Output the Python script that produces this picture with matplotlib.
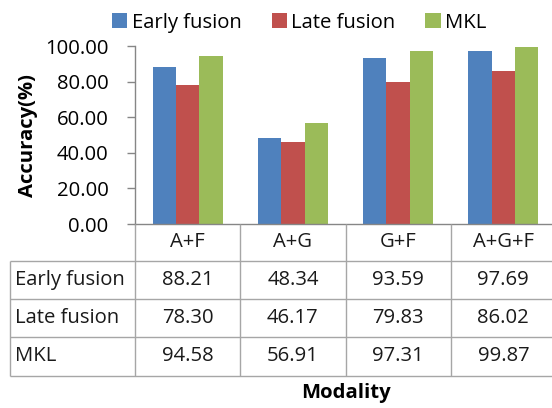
import matplotlib
matplotlib.use("Agg")
import matplotlib.pyplot as plt

categories = ["A+F", "A+G", "G+F", "A+G+F"]
early_fusion = [88.21, 48.34, 93.59, 97.69]
late_fusion = [78.30, 46.17, 79.83, 86.02]
mkl = [94.58, 56.91, 97.31, 99.87]
series_names = ["Early fusion", "Late fusion", "MKL"]
yticks = [0, 20, 40, 60, 80, 100]

colors = ["#4F81BD", "#C0504D", "#9BBB59"]
axis_gray = "#868686"
grid_gray = "#A6A6A6"
FONT = "Open Sans"
FS = 14.6

W, H = 552, 408
fig = plt.figure(figsize=(W / 100, H / 100), dpi=100)

# main plotting area (pixel geometry, origin bottom-left)
x0, x1, y0, y1 = 135, 556, 184, 361.6
ax = fig.add_axes([x0 / W, y0 / H, (x1 - x0) / W, (y1 - y0) / H])

series = [early_fusion, late_fusion, mkl]
bw = 0.222
for k, (vals, name, c) in enumerate(zip(series, series_names, colors)):
    xs = [i + (k - 1) * bw for i in range(len(categories))]
    ax.bar(xs, vals, width=bw, color=c, label=name, zorder=2)

ax.set_xlim(-0.5, len(categories) - 0.5)
ax.set_ylim(0, 100)
ax.set_yticks(yticks)
ax.set_yticklabels([f"{v:.2f}" for v in yticks], fontfamily=FONT, fontsize=FS, color="#000000")
ax.tick_params(axis="y", direction="out", length=6, width=1, color=axis_gray, pad=13)
ax.set_xticks([])
for s in ["top", "right"]:
    ax.spines[s].set_visible(False)
for s in ["left", "bottom"]:
    ax.spines[s].set_color(axis_gray)
    ax.spines[s].set_linewidth(1)
ax.patch.set_alpha(0)

ax.set_ylabel("Accuracy(%)", fontfamily=FONT, fontsize=FS, fontweight="bold", labelpad=5)

# legend across the top
leg = ax.legend(loc="lower center", bbox_to_anchor=(0.39, 1.03), ncol=3, frameon=False,
                prop={"family": FONT, "size": FS}, handlelength=0.75, handleheight=0.75,
                handletextpad=0.2, columnspacing=1.5, borderaxespad=0)

# data table below the axis, drawn in a full-figure pixel overlay
ov = fig.add_axes([0, 0, 1, 1], zorder=3)
ov.set_xlim(0, W)
ov.set_ylim(0, H)
ov.axis("off")

bounds = [ax.transData.transform((i - 0.5, 0))[0] for i in range(len(categories) + 1)]
centers = [ax.transData.transform((i, 0))[0] for i in range(len(categories))]
table_left = 10
header_h = 36.7
row_h = 38.3
y_head_bottom = y0 - header_h
row_lines = [y_head_bottom - r * row_h for r in range(len(series) + 1)]
y_bottom = row_lines[-1]

line_kw = dict(color=grid_gray, lw=1, solid_capstyle="butt")
for yl in row_lines:
    ov.plot([table_left, bounds[-1]], [yl, yl], **line_kw)
ov.plot([table_left, table_left], [row_lines[0], y_bottom], **line_kw)
for b in bounds:
    ov.plot([b, b], [y0, y_bottom], **line_kw)

txt_kw = dict(fontfamily=FONT, fontsize=FS, color="#1a1a1a", va="center")
for c, cat in zip(centers, categories):
    ov.text(c, y0 - header_h / 2, cat, ha="center", **txt_kw)
for r, (name, vals) in enumerate(zip(series_names, series)):
    yc = row_lines[r] - row_h / 2
    ov.text(table_left + 5, yc, name, ha="left", **txt_kw)
    for c, v in zip(centers, vals):
        ov.text(c, yc, f"{v:.2f}", ha="center", **txt_kw)

ov.text((x0 + x1) / 2, H - 393, "Modality", ha="center", va="center",
        fontfamily=FONT, fontsize=FS, fontweight="bold")

fig.savefig("out.png", dpi=100, facecolor="white")
